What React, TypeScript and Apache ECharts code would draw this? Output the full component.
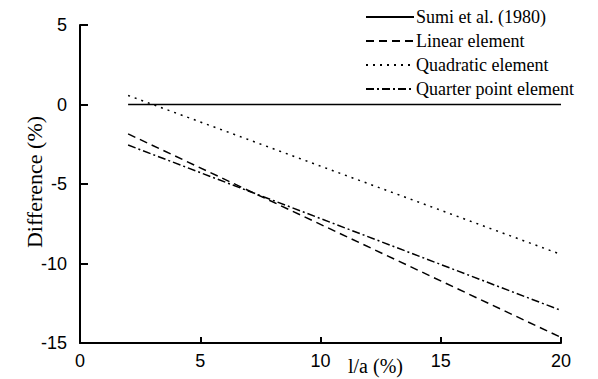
import React, { useEffect, useRef } from "react";
import * as echarts from "echarts";

const xValues = [2, 20];
const sumi = [0, 0];
const linear = [-1.85, -14.65];
const quadratic = [0.57, -9.43];
const quarter = [-2.55, -12.95];
const seriesNames = ["Sumi et al. (1980)", "Linear element", "Quadratic element", "Quarter point element"];
const xTicks = [0, 5, 10, 15, 20];
const yTicks = [-15, -10, -5, 0, 5];

const pairs = (ys: number[]) => xValues.map((x, i) => [x, ys[i]]);

export default function App() {
  const ref = useRef<HTMLDivElement>(null);
  useEffect(() => {
    document.body.style.margin = "0";
    const chart = echarts.init(ref.current!, undefined, { renderer: "svg" });
    const serif = "Liberation Serif";
    const sans = "Liberation Sans";
    const mk = (name: string, ys: number[], type: any) => ({
      name,
      type: "line",
      data: pairs(ys),
      symbol: "none",
      lineStyle: { color: "#000", width: 1.5, type },
      itemStyle: { color: "#000" },
    });
    chart.setOption({
      animation: false,
      backgroundColor: "#fff",
      grid: { left: 80, right: 37, top: 25, bottom: 36 },
      legend: {
        orient: "vertical",
        left: 360,
        top: 3,
        itemWidth: 48,
        itemHeight: 18,
        itemGap: 6,
        data: seriesNames,
        itemStyle: { opacity: 0 },
        textStyle: { fontFamily: serif, fontSize: 18, color: "#000", padding: [0, 0, 0, -3] },
      },
      xAxis: {
        type: "value",
        min: xTicks[0],
        max: xTicks[xTicks.length - 1],
        interval: 5,
        axisLine: { onZero: false, lineStyle: { color: "#000", width: 2 } },
        axisTick: { inside: true, length: 6, lineStyle: { color: "#000", width: 2 } },
        axisLabel: { fontFamily: sans, fontSize: 18, color: "#000", margin: 9 },
        splitLine: { show: false },
      },
      yAxis: {
        type: "value",
        min: yTicks[0],
        max: yTicks[yTicks.length - 1],
        interval: 5,
        axisLine: { onZero: false, lineStyle: { color: "#000", width: 2 } },
        axisTick: { inside: true, length: 8, lineStyle: { color: "#000", width: 2 } },
        axisLabel: { fontFamily: sans, fontSize: 18, color: "#000", margin: 13 },
        splitLine: { show: false },
      },
      graphic: [
        {
          type: "text",
          left: 348,
          top: 356,
          style: { text: "l/a (%)", fontFamily: serif, fontSize: 20, fill: "#000" },
        },
        {
          type: "text",
          x: 34,
          y: 182,
          rotation: Math.PI / 2,
          style: {
            text: "Difference (%)",
            fontFamily: serif,
            fontSize: 22,
            fill: "#000",
            align: "center",
            verticalAlign: "middle",
          },
        },
      ],
      series: [
        mk(seriesNames[0], sumi, "solid"),
        mk(seriesNames[1], linear, [8, 5]),
        mk(seriesNames[2], quadratic, [2, 5]),
        mk(seriesNames[3], quarter, [8, 3, 2, 3]),
      ],
    });
    return () => chart.dispose();
  }, []);
  return <div ref={ref} style={{ width: 598, height: 379 }} />;
}
